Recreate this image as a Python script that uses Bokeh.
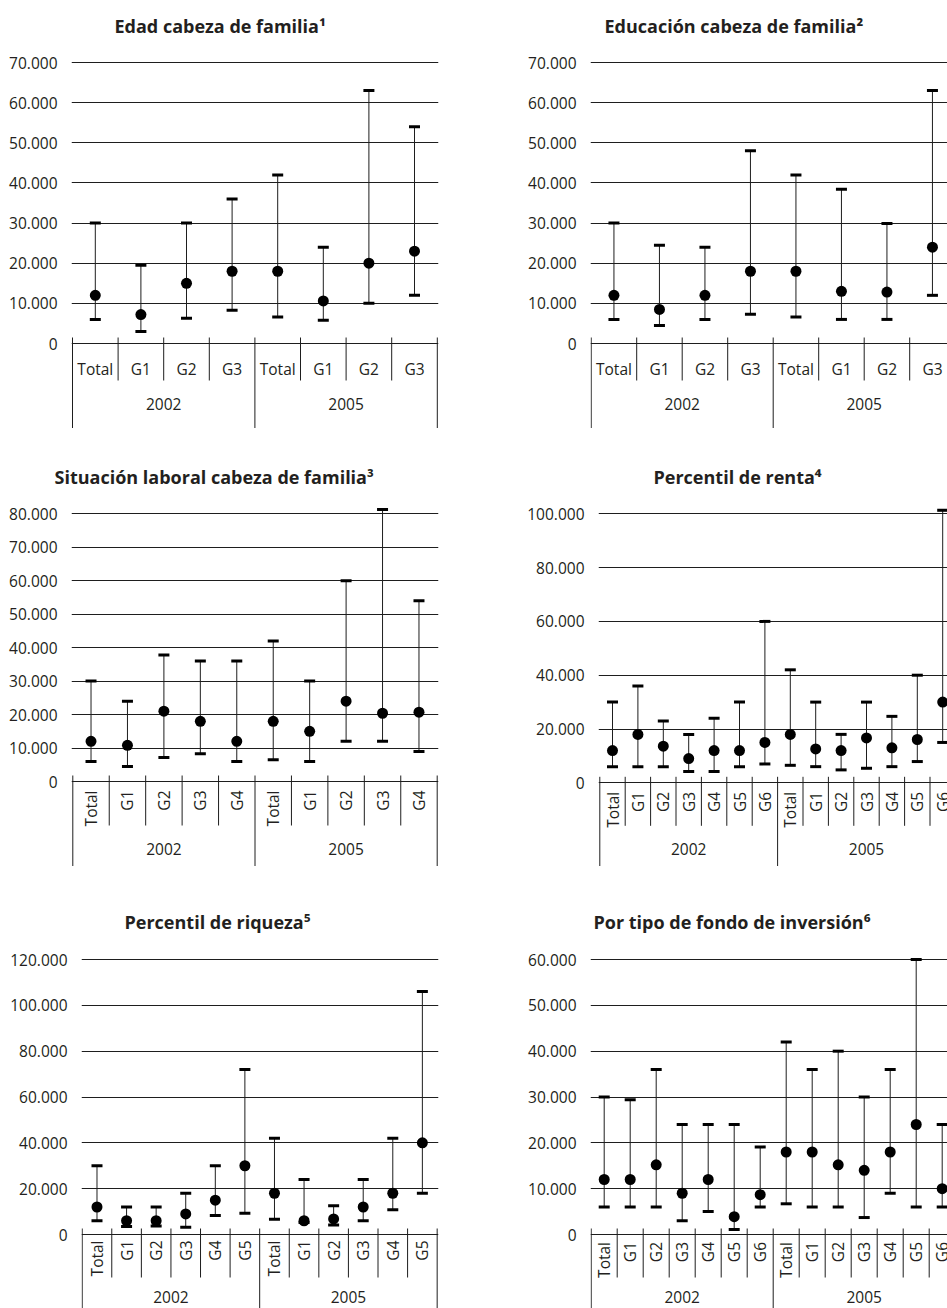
import math
from bokeh.plotting import figure
from bokeh.models import Range1d, FixedTicker
from bokeh.layouts import column, row
from bokeh.embed import file_html
from bokeh.resources import INLINE
from bokeh.core.properties import value

FONT = "Open Sans"
INK = "#231f20"
LINE = "#1e1e1e"

years = ["2002", "2005"]

# ---------------- data ----------------
p1_title = "Edad cabeza de familia¹"
p1_groups = ["Total", "G1", "G2", "G3"]
p1_low = [6000, 3000, 6300, 8300, 6600, 5800, 10000, 12000]
p1_mid = [12000, 7200, 15000, 18000, 18000, 10600, 20000, 23000]
p1_high = [30000, 19500, 30000, 36000, 42000, 24000, 63000, 54000]
p1_ticks = [0, 10000, 20000, 30000, 40000, 50000, 60000, 70000]

p2_title = "Educación cabeza de familia²"
p2_groups = ["Total", "G1", "G2", "G3"]
p2_low = [6000, 4500, 6000, 7300, 6600, 6000, 6000, 12000]
p2_mid = [12000, 8500, 12000, 18000, 18000, 13000, 12800, 24000]
p2_high = [30000, 24500, 24000, 48000, 42000, 38400, 29900, 63000]
p2_ticks = [0, 10000, 20000, 30000, 40000, 50000, 60000, 70000]

p3_title = "Situación laboral cabeza de familia³"
p3_groups = ["Total", "G1", "G2", "G3", "G4"]
p3_low = [6000, 4500, 7200, 8300, 6000, 6500, 6000, 12000, 12000, 9000]
p3_mid = [12000, 10800, 21000, 18000, 12000, 18000, 15000, 24000, 20400, 20700]
p3_high = [30000, 24000, 37800, 36000, 36000, 42000, 30000, 60000, 81300, 54000]
p3_ticks = [0, 10000, 20000, 30000, 40000, 50000, 60000, 70000, 80000]

p4_title = "Percentil de renta⁴"
p4_groups = ["Total", "G1", "G2", "G3", "G4", "G5", "G6"]
p4_low = [6000, 6000, 6000, 4200, 4200, 6000, 7000,
          6500, 6000, 4800, 5400, 6000, 7900, 15000]
p4_mid = [12000, 18000, 13600, 9000, 12000, 12000, 15000,
          18000, 12600, 12000, 16700, 13000, 16100, 30000]
p4_high = [30000, 36000, 23000, 18000, 24000, 30000, 60000,
           42000, 30000, 18000, 30000, 24700, 40000, 101300]
p4_ticks = [0, 20000, 40000, 60000, 80000, 100000]

p5_title = "Percentil de riqueza⁵"
p5_groups = ["Total", "G1", "G2", "G3", "G4", "G5"]
p5_low = [6000, 3500, 3700, 3200, 8300, 9300,
          6700, 5200, 4200, 6000, 10800, 18000]
p5_mid = [12000, 6000, 6000, 9000, 15000, 30000,
          18000, 6000, 6800, 12000, 18000, 40000]
p5_high = [30000, 12000, 12000, 18000, 30000, 72000,
           42000, 24000, 12600, 24000, 42000, 106000]
p5_ticks = [0, 20000, 40000, 60000, 80000, 100000, 120000]

p6_title = "Por tipo de fondo de inversión⁶"
p6_groups = ["Total", "G1", "G2", "G3", "G4", "G5", "G6"]
p6_low = [6000, 6000, 6000, 3000, 5000, 1100, 6000,
          6700, 6000, 6000, 3700, 9000, 6000, 6000]
p6_mid = [12000, 12000, 15200, 9000, 12000, 3900, 8700,
          18000, 18000, 15200, 14000, 18000, 24000, 10000]
p6_high = [30000, 29400, 36000, 24000, 24000, 24000, 19100,
           42000, 36000, 40000, 30000, 36000, 60000, 24000]
p6_ticks = [0, 10000, 20000, 30000, 40000, 50000, 60000]


def fmt(t):
    return f"{t:,}".replace(",", ".")


def make_panel(title, groups, low, mid, high, yticks, g):
    n_per = len(groups)
    n = 2 * n_per
    labels = groups * 2
    centers = [i + 0.5 for i in range(n)]

    cat_px = g["cat_px"]
    sep0 = g["sep0"]
    frame_left = int(round(sep0 - 1))
    frame_right = int(min(round(sep0 + n * cat_px + 1), 947))
    x_start = (frame_left - sep0) / cat_px
    x_end = (frame_right - sep0) / cat_px

    fig_h = g["fig_h"]
    frame_top = g["frame_top"]
    frame_bottom = g["fig_y"] + fig_h
    s = (g["y0"] - g["ytop"]) / yticks[-1]
    y_end = (g["y0"] - frame_top) / s
    y_start = -(frame_bottom - g["y0"]) / s

    p = figure(width=g["fig_w"], height=fig_h,
               x_range=Range1d(x_start, x_end), y_range=Range1d(y_start, y_end),
               output_backend="svg", toolbar_location=None, x_axis_location=None,
               min_border_left=frame_left - g["fig_x"],
               min_border_right=g["fig_x"] + g["fig_w"] - frame_right,
               min_border_top=frame_top - g["fig_y"], min_border_bottom=0)
    p.outline_line_color = None
    p.background_fill_color = "white"
    p.border_fill_color = "white"

    p.title.text = title
    p.title.align = "left"
    p.title.offset = g["title_left"] - frame_left
    p.title.standoff = g["standoff"]
    p.title.text_font = FONT
    p.title.text_font_style = "bold"
    p.title.text_font_size = "18px"
    p.title.text_color = INK

    p.xgrid.visible = False
    p.ygrid.ticker = FixedTicker(ticks=yticks)
    p.ygrid.grid_line_color = LINE
    p.ygrid.grid_line_width = 1

    ax = p.yaxis[0]
    ax.ticker = FixedTicker(ticks=yticks)
    ax.minor_tick_line_color = None
    ax.major_tick_line_color = None
    ax.major_tick_out = 0
    ax.major_tick_in = 0
    ax.axis_line_color = None
    ax.major_label_standoff = 14
    ax.major_label_overrides = {t: fmt(t) for t in yticks}
    ax.major_label_text_font = FONT
    ax.major_label_text_font_size = "15.5px"
    ax.major_label_text_color = INK

    # category separators
    up = 6 / s
    for b in range(n + 1):
        if b > x_end:
            continue
        bottom = y_start if b % n_per == 0 else -g["inner"] / s
        p.segment(x0=b, y0=up, x1=b, y1=bottom, line_color=LINE, line_width=1)

    # category labels
    if g["vertical"]:
        p.text(x=centers, y=[-g["lab_off"] / s] * n, text=labels,
               angle=math.pi / 2, text_align="right", text_baseline="middle",
               text_font=value(FONT), text_font_size="15.5px", text_color=INK)
    else:
        p.text(x=centers, y=[-g["lab_off"] / s] * n, text=labels,
               text_align="center", text_baseline="middle",
               text_font=value(FONT), text_font_size="15.5px", text_color=INK)
    p.text(x=[n_per / 2, n_per * 1.5], y=[-g["year_off"] / s] * 2, text=years,
           text_align="center", text_baseline="middle",
           text_font=value(FONT), text_font_size="15.5px", text_color=INK)

    # error bars
    p.segment(x0=centers, y0=low, x1=centers, y1=high, line_color=LINE, line_width=1)
    p.rect(x=centers, y=low, width=11, height=3, width_units="screen",
           height_units="screen", fill_color="black", line_color=None)
    p.rect(x=centers, y=high, width=11, height=3, width_units="screen",
           height_units="screen", fill_color="black", line_color=None)
    p.scatter(x=centers, y=mid, size=11, fill_color="black", line_color=None)
    return p


G1 = dict(fig_x=0, fig_w=468, fig_y=0, fig_h=428, frame_top=47, sep0=72.0, cat_px=45.6,
          y0=343, ytop=62, title_left=114, standoff=20, vertical=False,
          lab_off=25, inner=37, year_off=60)
G2 = dict(G1, fig_x=468, fig_w=479, sep0=590.7, cat_px=45.5, title_left=604)
G3 = dict(fig_x=0, fig_w=468, fig_y=428, fig_h=438, frame_top=500, sep0=72.3, cat_px=36.44,
          y0=781, ytop=513.3, title_left=54, standoff=24, vertical=True,
          lab_off=9, inner=44, year_off=67)
G4 = dict(G3, fig_x=468, fig_w=479, sep0=599.3, cat_px=25.4, y0=782.3, title_left=653,
          inner=43, year_off=66)
G5 = dict(fig_x=0, fig_w=468, fig_y=866, fig_h=442, frame_top=950, sep0=81.7, cat_px=29.58,
          y0=1234, ytop=959, title_left=124, standoff=34, vertical=True,
          lab_off=6, inner=43, year_off=62)
G6 = dict(G5, fig_x=468, fig_w=479, sep0=590.7, cat_px=26.0, title_left=593, lab_off=7.5)

p1 = make_panel(p1_title, p1_groups, p1_low, p1_mid, p1_high, p1_ticks, G1)
p2 = make_panel(p2_title, p2_groups, p2_low, p2_mid, p2_high, p2_ticks, G2)
p3 = make_panel(p3_title, p3_groups, p3_low, p3_mid, p3_high, p3_ticks, G3)
p4 = make_panel(p4_title, p4_groups, p4_low, p4_mid, p4_high, p4_ticks, G4)
p5 = make_panel(p5_title, p5_groups, p5_low, p5_mid, p5_high, p5_ticks, G5)
p6 = make_panel(p6_title, p6_groups, p6_low, p6_mid, p6_high, p6_ticks, G6)

layout = column(row(p1, p2), row(p3, p4), row(p5, p6))
open("out.html", "w").write(file_html(layout, INLINE))
